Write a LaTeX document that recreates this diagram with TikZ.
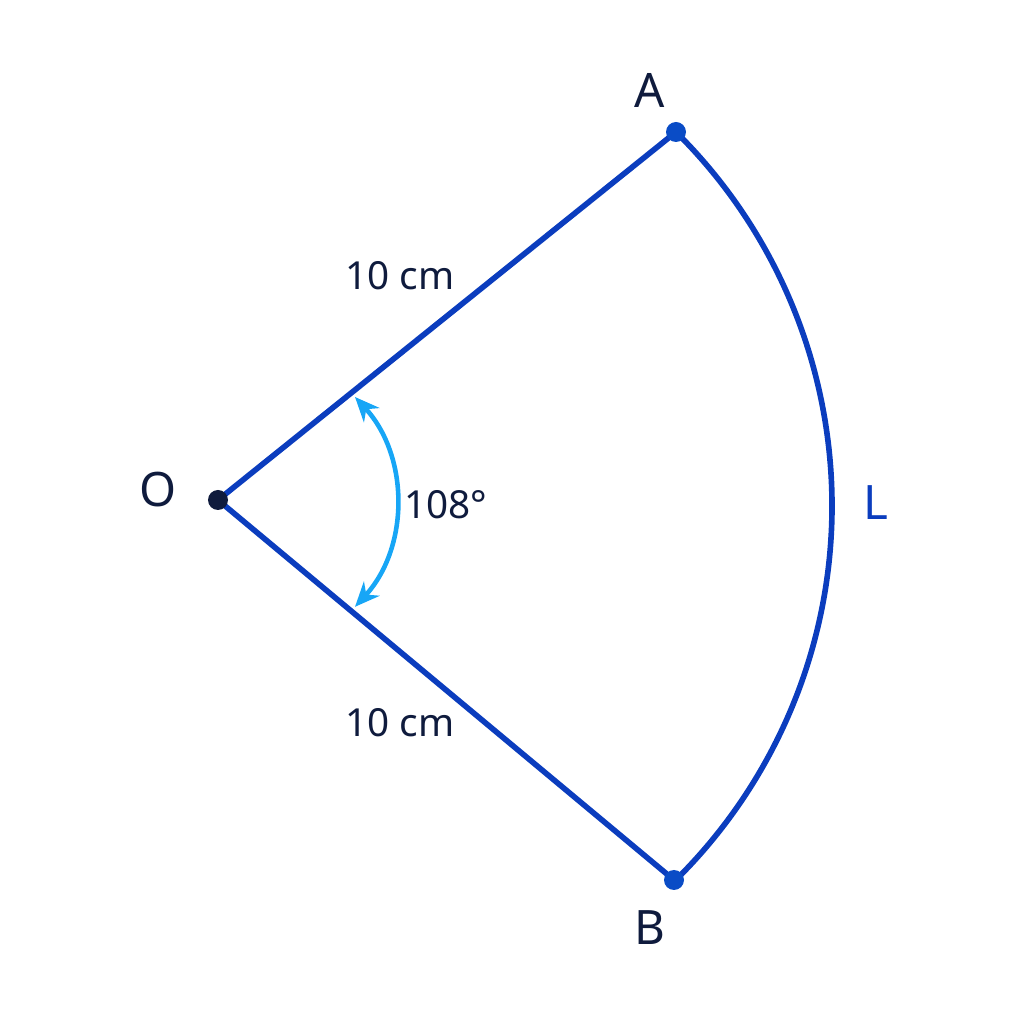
\documentclass[tikz,border=0pt]{standalone}
\usepackage{fontspec}
\setmainfont{Noto Sans}
\usepackage{tikz}
\usetikzlibrary{arrows.meta}
\definecolor{edgeblue}{HTML}{0B3DBE}
\definecolor{dotblue}{HTML}{0A4CC6}
\definecolor{navy}{HTML}{0F1B3D}
\definecolor{skyarrow}{HTML}{17A6F6}

\begin{document}
\begin{tikzpicture}[
  edge/.style={edgeblue, line width=1.6pt},
  anglemark/.style={skyarrow, line width=1.3pt, {Stealth[length=7pt,width=6pt]}-{Stealth[length=7pt,width=6pt]}},
  lbl/.style={text=navy, font=\fontsize{13.5}{15}\selectfont},
  small/.style={text=navy, font=\fontsize{11}{13}\selectfont}]
\useasboundingbox (0,0) rectangle (10.24,10.24);
\coordinate (O) at (2.18,5.24);
\coordinate (A) at (6.76,8.92);
\coordinate (B) at (6.74,1.44);
\coordinate (a1) at (3.55,6.27);
\draw[edge] (O)--(A);
\draw[edge] (O)--(B);
\draw[edge] (A) arc[start angle=45.3, end angle=-45.3, radius=5.26];
\draw[anglemark] (a1) arc[start angle=42.6, end angle=-42.6, radius=1.55];
\fill[navy] (O) circle(.1);
\fill[dotblue] (A) circle(.1);
\fill[dotblue] (B) circle(.1);
\node[lbl] (labA) at (6.50,9.34) {A};
\node[lbl] (labB) at (6.50,0.96) {B};
\node[lbl] (labO) at (1.58,5.34) {O};
\node[lbl, text=edgeblue] (labL) at (8.76,5.21) {L};
\node[small] (rOA) at (4.00,7.48) {10 cm};
\node[small] (rOB) at (4.00,3.01) {10 cm};
\node[small] (ang) at (4.46,5.19) {108°};
\end{tikzpicture}
\end{document}
